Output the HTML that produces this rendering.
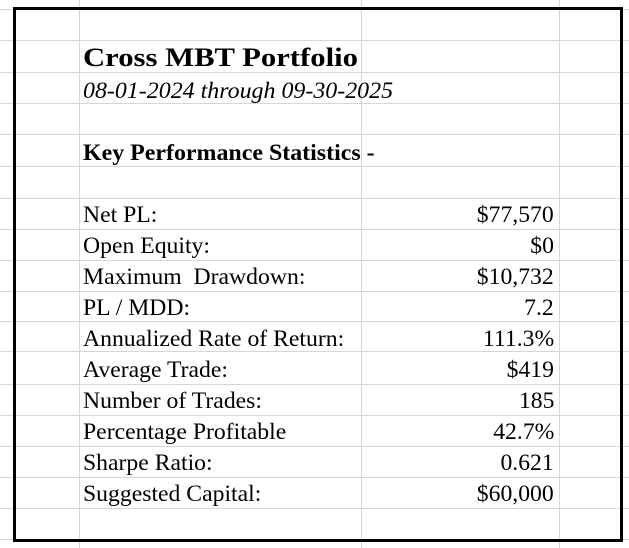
<!DOCTYPE html>
<html><head><style>
html,body{margin:0;padding:0;background:#fff;}
body{width:629px;height:548px;position:relative;overflow:hidden;font-family:"Liberation Serif",serif;color:#000;}
.h{position:absolute;left:0;width:629px;height:1px;background:#d6d6d6;}
.v{position:absolute;top:0;height:548px;width:1px;background:#d6d6d6;}
.t{position:absolute;left:83px;font-size:23px;line-height:23px;white-space:nowrap;transform:scaleX(1.03);transform-origin:left;}
.r{position:absolute;right:75px;font-size:23px;line-height:23px;white-space:nowrap;text-align:right;transform:scaleX(1.03);transform-origin:right;}
.border{position:absolute;left:13px;top:7px;width:604px;height:529px;border:3px solid #000;}
</style></head><body>
<div class="v" style="left:79px"></div>
<div class="v" style="left:361px"></div>
<div class="v" style="left:559px"></div>
<div class="h" style="top:9px"></div>
<div class="h" style="top:40px"></div>
<div class="h" style="top:72px"></div>
<div class="h" style="top:103px"></div>
<div class="h" style="top:134px"></div>
<div class="h" style="top:166px"></div>
<div class="h" style="top:198px"></div>
<div class="h" style="top:229px"></div>
<div class="h" style="top:260px"></div>
<div class="h" style="top:291px"></div>
<div class="h" style="top:321px"></div>
<div class="h" style="top:351px"></div>
<div class="h" style="top:384px"></div>
<div class="h" style="top:415px"></div>
<div class="h" style="top:446px"></div>
<div class="h" style="top:477px"></div>
<div class="h" style="top:508px"></div>
<div class="h" style="top:539px"></div>
<div class="border"></div>

<div class="t" style="top:45px;font-size:26px;line-height:26px;font-weight:bold;transform:scaleX(1.18)">Cross MBT Portfolio</div>
<div class="t" style="top:79px;font-style:italic;font-size:23px;line-height:23px;transform:scaleX(1.04)">08-01-2024 through 09-30-2025</div>
<div class="t" style="top:141px;font-weight:bold;transform:scaleX(1.04)">Key Performance Statistics -</div>

<div class="t" style="top:203px">Net PL:</div>
<div class="t" style="top:234px">Open Equity:</div>
<div class="t" style="top:265px">Maximum&nbsp; Drawdown:</div>
<div class="t" style="top:296px">PL / MDD:</div>
<div class="t" style="top:327px">Annualized Rate of Return:</div>
<div class="t" style="top:358px">Average Trade:</div>
<div class="t" style="top:389px">Number of Trades:</div>
<div class="t" style="top:420px">Percentage Profitable</div>
<div class="t" style="top:451px">Sharpe Ratio:</div>
<div class="t" style="top:482px">Suggested Capital:</div>

<div class="r" style="top:203px">$77,570</div>
<div class="r" style="top:234px">$0</div>
<div class="r" style="top:265px">$10,732</div>
<div class="r" style="top:296px">7.2</div>
<div class="r" style="top:327px">111.3%</div>
<div class="r" style="top:358px">$419</div>
<div class="r" style="top:389px">185</div>
<div class="r" style="top:420px">42.7%</div>
<div class="r" style="top:451px">0.621</div>
<div class="r" style="top:482px">$60,000</div>
</body></html>
